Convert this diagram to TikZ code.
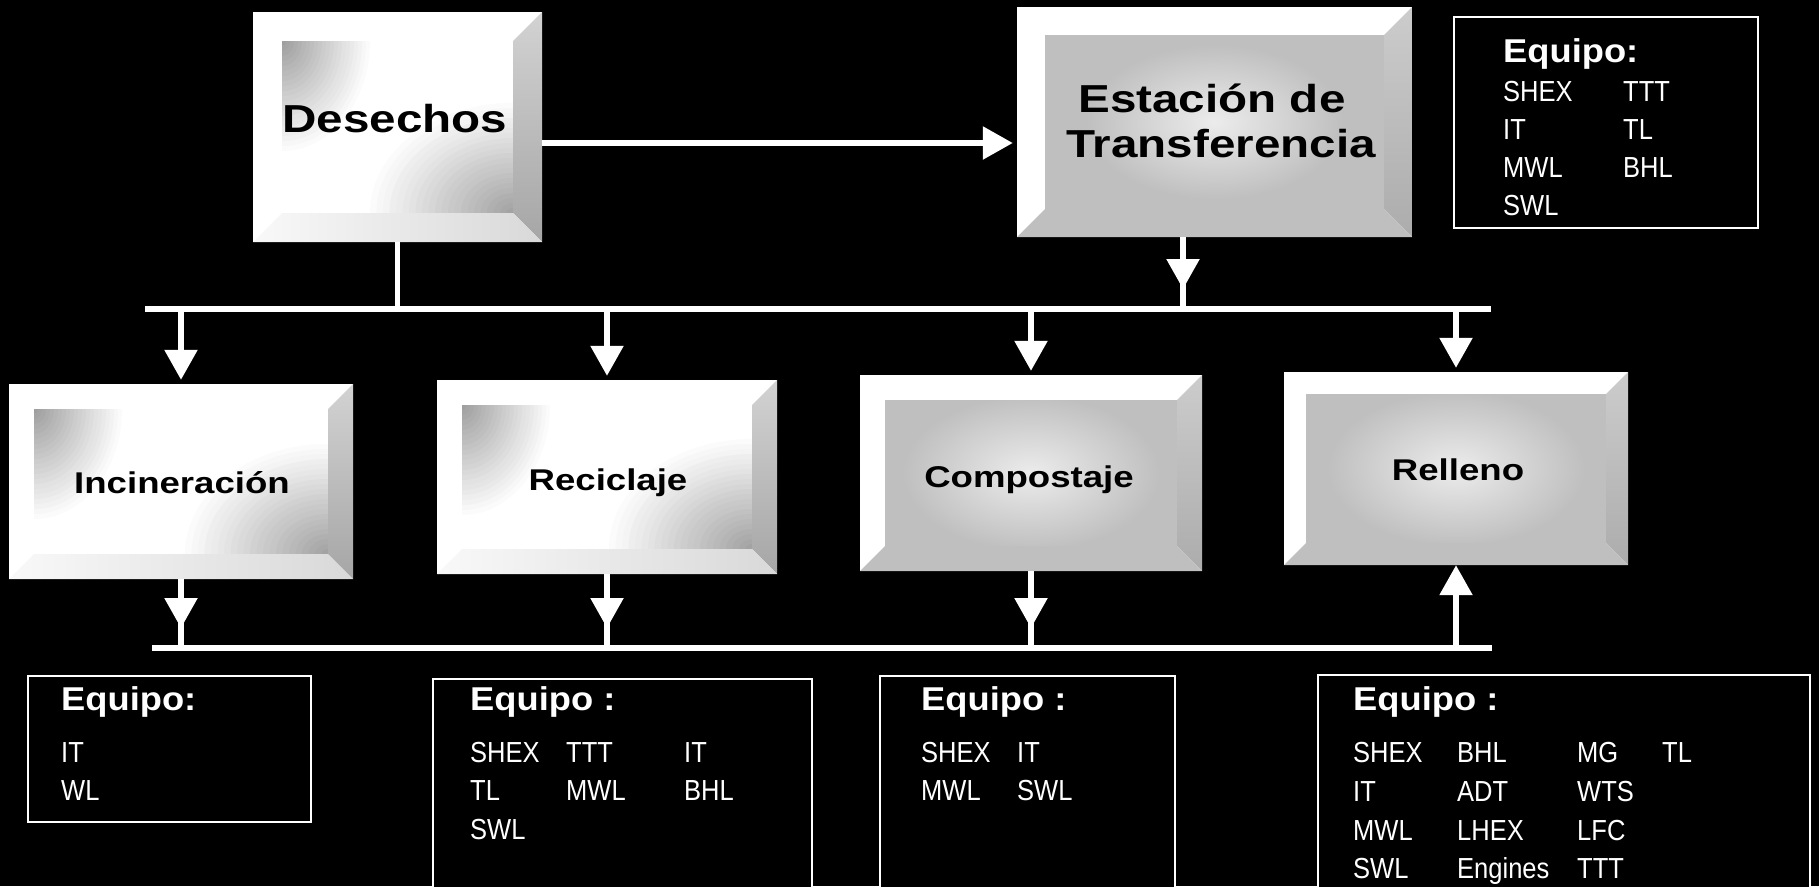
\documentclass[tikz,border=0pt]{standalone}
\usepackage{graphicx}
\usepackage{fontspec}
\setmainfont{Liberation Sans}
\usetikzlibrary{arrows.meta,calc}

\pgfdeclareradialshading{centerfade}{\pgfpoint{0bp}{0bp}}{color(0bp)=(gray!15); color(16bp)=(gray!50); color(50bp)=(gray!50)}

\newcommand{\wideT}[1]{\scalebox{1.22}[1]{#1}}
\newcommand{\narrowT}[1]{\scalebox{0.88}[1]{#1}}
\newcommand{\headT}[1]{\scalebox{1.1}[1]{#1}}

% name, x1, y1, x2, y2, bevel
\newcommand{\bevelframe}[6]{%
  \fill[white] (#2,#3) rectangle (#4,#5);
  \coordinate (#1-a) at ({#2+#6},{#3+#6});
  \coordinate (#1-b) at ({#4-#6},{#3+#6});
  \coordinate (#1-c) at ({#4-#6},{#5-#6});
  \coordinate (#1-d) at ({#2+#6},{#5-#6});
  \node[boxnode, minimum width={(#4-#2)*1pt}, minimum height={(#5-#3)*1pt}] (#1) at ({(#2+#4)/2},{(#3+#5)/2}) {};
}
\newcommand{\lightface}[1]{%
  \begin{scope}
    \clip (#1-a) rectangle (#1-c);
    \foreach \k in {22,21,...,1} {
      \pgfmathtruncatemacro\g{72*(23-\k)/22}
      \fill[gray!\g] (#1-c) ellipse ({6.5*\k} and {5*\k});
    }
    \foreach \k in {22,21,...,1} {
      \pgfmathtruncatemacro\g{75*(23-\k)/22}
      \fill[gray!\g] (#1-a) ellipse ({4*\k} and {5*\k});
    }
  \end{scope}
  \shade[top color=gray!35, bottom color=gray!70] (#1.north east) -- (#1-b) -- (#1-c) -- (#1.south east) -- cycle;
  \shade[left color=gray!5, right color=gray!30] (#1.south west) -- (#1-d) -- (#1-c) -- (#1.south east) -- cycle;
}
\newcommand{\heavyface}[1]{%
  \fill[gray!50] (#1-a) rectangle (#1-c);
  \begin{scope}
    \clip (#1-a) rectangle (#1-c);
    \shade[shading=centerfade] ($(#1-a)!0.5!(#1-c)$) ellipse (200 and 120);
  \end{scope}
  \shade[top color=gray!40, bottom color=gray!65] (#1.north east) -- (#1-b) -- (#1-c) -- (#1.south east) -- cycle;
  \fill[gray!50] (#1.south west) -- (#1-d) -- (#1-c) -- (#1.south east) -- cycle;
}

\tikzset{
  boxnode/.style={draw=none, inner sep=0pt, rectangle},
  wire/.style={draw=white, line width=5.5pt},
  arr/.style={wire, -{Triangle[width=32pt,length=30pt]}},
  bigT/.style={font=\fontsize{39}{41}\selectfont\bfseries, text=black, inner sep=0pt, anchor=base},
  midT/.style={font=\fontsize{30}{32}\selectfont\bfseries, text=black, inner sep=0pt, anchor=base},
  eqbox/.style={draw=white, line width=2.2pt, fill=black, inner sep=0pt, rectangle},
  eqhead/.style={font=\fontsize{33}{35}\selectfont\bfseries, text=white, inner sep=0pt, anchor=base west},
  eqitem/.style={font=\fontsize{29}{31}\selectfont, text=white, inner sep=0pt, anchor=base west},
}

\begin{document}
\begin{tikzpicture}[x=1pt,y=-1pt]
\useasboundingbox (0,0) rectangle (1819,886);
\fill[black] (0,0) rectangle (1819,886);

% bevel boxes
\bevelframe{des}{253}{12}{542}{242}{29}
\lightface{des}
\bevelframe{est}{1017}{7}{1412}{237}{28}
\heavyface{est}
\bevelframe{inc}{9}{384}{353}{579}{25}
\lightface{inc}
\bevelframe{rec}{437}{380}{777}{574}{25}
\lightface{rec}
\bevelframe{com}{860}{375}{1202}{571}{25}
\heavyface{com}
\bevelframe{rel}{1284}{372}{1628}{565}{22}
\heavyface{rel}

% labels
\node[bigT] (tdes) at (395,132) {\wideT{Desechos}};
\node[bigT] (test1) at (1212,112) {\wideT{Estación de}};
\node[bigT] (test2) at (1221,157) {\wideT{Transferencia}};
\node[midT] (tinc) at (182,493) {\wideT{Incineración}};
\node[midT] (trec) at (608,490) {\wideT{Reciclaje}};
\node[midT] (tcom) at (1029,487) {\wideT{Compostaje}};
\node[midT] (trel) at (1458,480) {\wideT{Relleno}};

% connectors
\coordinate (yA) at (0,143);
\draw[arr] (des.east |- yA) -- ($(est.west |- yA)+(-4,0)$);
\coordinate (b1L) at (145,309);
\coordinate (b1R) at (1491,309);
\draw[wire] (b1L) -- (b1R);
\draw[wire] (des.south) -- (des.south |- b1L);
\coordinate (xE) at (1183,0);
\coordinate (eTip) at (1183,289);
\draw[wire] (est.south -| xE) -- (xE |- b1L);
\draw[arr] (est.south -| xE) -- (eTip);
\foreach \n in {inc,rec,com,rel}
  \draw[arr, shorten >=4pt] (\n.north |- b1L) -- (\n.north);
\coordinate (b2L) at (152,648);
\coordinate (b2R) at (1492,648);
\coordinate (b2T) at (0,628);
\draw[wire] (b2L) -- (b2R);
\foreach \n in {inc,rec,com} {
  \draw[wire] (\n.south) -- (\n.south |- b2L);
  \draw[arr] (\n.south) -- (\n.south |- b2T);
}
\draw[arr] (rel.south |- b2L) -- (rel.south);

% equipment boxes
\node[eqbox, minimum width=304pt, minimum height=211pt] (eq0) at (1606,122.5) {};
\node[eqbox, minimum width=283pt, minimum height=146pt] (eq1) at (169.5,749) {};
\node[eqbox, minimum width=379pt, minimum height=231pt] (eq2) at (622.5,794.5) {};
\node[eqbox, minimum width=295pt, minimum height=234pt] (eq3) at (1027.5,793) {};
\node[eqbox, minimum width=492pt, minimum height=235pt] (eq4) at (1564,792.5) {};

\node[eqhead] (h0) at (1503,62) {\headT{Equipo:}};
\node[eqhead] (h1) at (61,710) {\headT{Equipo:}};
\node[eqhead] (h2) at (470,710) {\headT{Equipo :}};
\node[eqhead] (h3) at (921,710) {\headT{Equipo :}};
\node[eqhead] (h4) at (1353,710) {\headT{Equipo :}};

\foreach \x/\y/\t/\n in {
  1503/101/SHEX/i0a, 1623/101/TTT/i0b,
  1503/139/IT/i0c, 1623/139/TL/i0d,
  1503/177/MWL/i0e, 1623/177/BHL/i0f,
  1503/215/SWL/i0g,
  61/762/IT/i1a, 61/800/WL/i1b,
  470/762/SHEX/i2a, 566/762/TTT/i2b, 684/762/IT/i2c,
  470/800/TL/i2d, 566/800/MWL/i2e, 684/800/BHL/i2f,
  470/839/SWL/i2g,
  921/762/SHEX/i3a, 1017/762/IT/i3b,
  921/800/MWL/i3c, 1017/800/SWL/i3d,
  1353/762/SHEX/i4a, 1457/762/BHL/i4b, 1577/762/MG/i4c, 1662/762/TL/i4d,
  1353/801/IT/i4e, 1457/801/ADT/i4f, 1577/801/WTS/i4g,
  1353/840/MWL/i4h, 1457/840/LHEX/i4i, 1577/840/LFC/i4j,
  1353/878/SWL/i4k, 1457/878/Engines/i4l, 1577/878/TTT/i4m}
  \node[eqitem] (\n) at (\x,\y) {\narrowT{\t}};
\end{tikzpicture}
\end{document}
